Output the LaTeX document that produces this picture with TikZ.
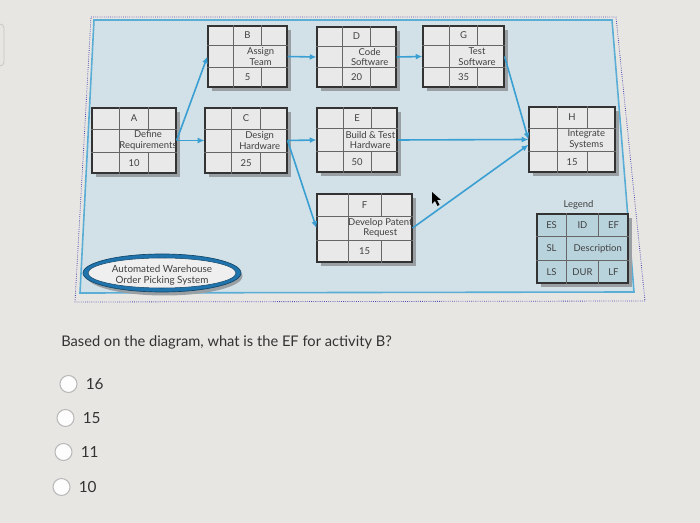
\documentclass[tikz,border=0pt]{standalone}
\usepackage{fontspec}
\setmainfont{Lato}
\usetikzlibrary{shapes.geometric,arrows.meta,positioning}

\definecolor{pagebg}{HTML}{E8E6E2}
\definecolor{panelfill}{HTML}{D2E1E7}
\definecolor{panelblue}{HTML}{5AAED6}
\definecolor{boxfill}{HTML}{E9E9E9}
\definecolor{boxline}{HTML}{333333}
\definecolor{boxshadow}{HTML}{9A9FA3}
\definecolor{legendfill}{HTML}{B9D3DD}
\definecolor{flowblue}{HTML}{3A9FD2}
\definecolor{ovalblue}{HTML}{1F74AE}
\definecolor{ovalfill}{HTML}{EFEFEF}
\definecolor{txtgrey}{HTML}{404040}
\definecolor{qtext}{HTML}{333333}

% inner lines of an activity box: name, width, height
\newcommand{\boxgrid}[3]{%
  \draw[gridline] ([yshift=-#3*0.25pt]#1.north west) -- ([yshift=-#3*0.25pt]#1.north east);
  \draw[gridline] ([yshift=#3*0.25pt]#1.south west) -- ([yshift=#3*0.25pt]#1.south east);
  \draw[gridline] ([xshift=#2*0.25pt]#1.north west) -- ([xshift=#2*0.25pt]#1.south west);
  \draw[gridline] ([xshift=-#2*0.25pt]#1.north east) -- ([xshift=-#2*0.25pt,yshift=-#3*0.25pt]#1.north east);
  \draw[gridline] ([xshift=-#2*0.25pt]#1.south east) -- ([xshift=-#2*0.25pt,yshift=#3*0.25pt]#1.south east);
}
% grey shadow behind a box: x, y, width, height
\newcommand{\boxshade}[4]{%
  \fill[boxshadow] ({#1-#3/2+3.5},{#2-#4/2+4}) rectangle ({#1+#3/2+3.5},{#2+#4/2+4});
}
% activity box: name, x, y, width, height, id, description, duration
\newcommand{\actbox}[8]{%
  \boxshade{#2}{#3}{#4}{#5}
  \node[actcell,minimum width=#4*0.75pt,minimum height=#5*0.75pt] (#1) at (#2,#3) {};
  \boxgrid{#1}{#4}{#5}
  \node[boxtext] at ([yshift=-#5*0.125pt]#1.north) {#6};
  \node[boxtext] at ([xshift=#4*0.125pt]#1.center) {#7};
  \node[boxtext] at ([yshift=#5*0.125pt]#1.south) {#8};
}

\begin{document}
\begin{tikzpicture}[x=0.75pt,y=-0.75pt,
  actcell/.style={draw=boxline,line width=0.9pt,fill=boxfill,inner sep=0pt},
  legendcell/.style={actcell,fill=legendfill},
  gridline/.style={draw=boxline!75,line width=0.5pt},
  boxtext/.style={font=\fontsize{7.1}{7.8}\selectfont,text=txtgrey,align=center,inner sep=0pt},
  flow/.style={draw=flowblue,line width=1.2pt,-{Latex[length=5pt,width=4.5pt]}},
  radio/.style={circle,draw=gray!55,line width=0.8pt,fill=white!92!pagebg,minimum size=12.75pt,inner sep=0pt},
  opttext/.style={font=\fontsize{11.5}{13}\selectfont,text=qtext,inner sep=0pt}]
\useasboundingbox (0,0) rectangle (700,523);
\fill[pagebg] (0,0) rectangle (700,523);
\draw[gray!45,line width=0.6pt,rounded corners=3pt] (-8,24) rectangle (4,66);
%Panel
\filldraw[fill=panelfill,draw=panelblue,line width=1.2pt] (94,20) -- (612,20) -- (634,292) -- (80,293) -- cycle;
\draw[densely dotted,draw=gray!60!blue,line width=0.6pt] (91,17) -- (616,17) -- (645,301) -- (75,302) -- cycle;
%Activity boxes
\actbox{A}{134}{140.5}{84}{65}{A}{Define\\Requirements}{10}
\actbox{B}{247.5}{56.5}{79}{61}{B}{Assign\\Team}{5}
\actbox{C}{246}{140.5}{82}{65}{C}{Design\\Hardware}{25}
\actbox{D}{356.5}{57}{79}{60}{D}{Code\\Software}{20}
\actbox{E}{357}{140}{80}{64}{E}{Build \& Test\\Hardware}{50}
\actbox{G}{463.5}{56.5}{81}{61}{G}{Test\\Software}{35}
\actbox{H}{572}{139.5}{86}{65}{H}{Integrate\\Systems}{15}
\actbox{F}{364.5}{228}{95}{68}{F}{Develop Patent\\Request}{15}
%Connections
\draw[flow] (A.east) -- (B.west);
\draw[flow] (A.east) -- (C.west);
\draw[flow] (B.east) -- (D.west);
\draw[flow] (D.east) -- (G.west);
\draw[flow] (C.east) -- (E.west);
\draw[flow] (C.east) -- (F.west);
\draw[flow] (E.east) -- (H.west);
\draw[flow] (G.east) -- (H.west);
\draw[flow] (F.east) -- ([yshift=-4pt]H.west);
%Legend
\boxshade{582.5}{248.5}{91}{69}
\node[legendcell,minimum width=91*0.75pt,minimum height=69*0.75pt] (LG) at (582.5,248.5) {};
\boxgrid{LG}{91}{69}
\node[boxtext,above=3pt of LG,xshift=-3pt] {Legend};
\node[boxtext] at ([xshift=91*0.125pt,yshift=-69*0.125pt]LG.north west) {ES};
\node[boxtext] at ([yshift=-69*0.125pt]LG.north) {ID};
\node[boxtext] at ([xshift=-91*0.125pt,yshift=-69*0.125pt]LG.north east) {EF};
\node[boxtext] at ([xshift=91*0.125pt]LG.west) {SL};
\node[boxtext] at ([xshift=91*0.125pt]LG.center) {Description};
\node[boxtext] at ([xshift=91*0.125pt,yshift=69*0.125pt]LG.south west) {LS};
\node[boxtext] at ([yshift=69*0.125pt]LG.south) {DUR};
\node[boxtext] at ([xshift=-91*0.125pt,yshift=69*0.125pt]LG.south east) {LF};
%System name
\fill[boxshadow] (164.5,276) ellipse [x radius=78, y radius=19.5];
\filldraw[fill=ovalblue,draw=ovalblue!60!black,line width=0.5pt] (162,273) ellipse [x radius=79, y radius=19];
\filldraw[fill=ovalfill,draw=ovalblue!60!black,line width=0.4pt] (162,273) ellipse [x radius=74, y radius=15];
\node[font=\fontsize{7.4}{8.3}\selectfont,text=txtgrey,align=center,inner sep=0pt] (Sys) at (162,275.5)
  {Automated Warehouse\\Order Picking System};
%Pointer
\fill[black] (432,192) -- (432,204) -- (435,201) -- (437.5,206) -- (439.5,205) -- (437,200) -- (441,200) -- cycle;
%Question
\node[anchor=west,font=\fontsize{11}{13}\selectfont,text=qtext,inner sep=0pt] (Q) at (61,342)
  {Based on the diagram, what is the EF for activity B?};
\node[radio] (R1) at (68.5,384) {};
\node[radio] (R2) at (65.5,418) {};
\node[radio] (R3) at (63.5,452) {};
\node[radio] (R4) at (61.5,487) {};
\node[opttext,right=6pt of R1] (L1) {16};
\node[opttext,right=6pt of R2] (L2) {15};
\node[opttext,right=6pt of R3] (L3) {11};
\node[opttext,right=6pt of R4] (L4) {10};
\end{tikzpicture}
\end{document}
